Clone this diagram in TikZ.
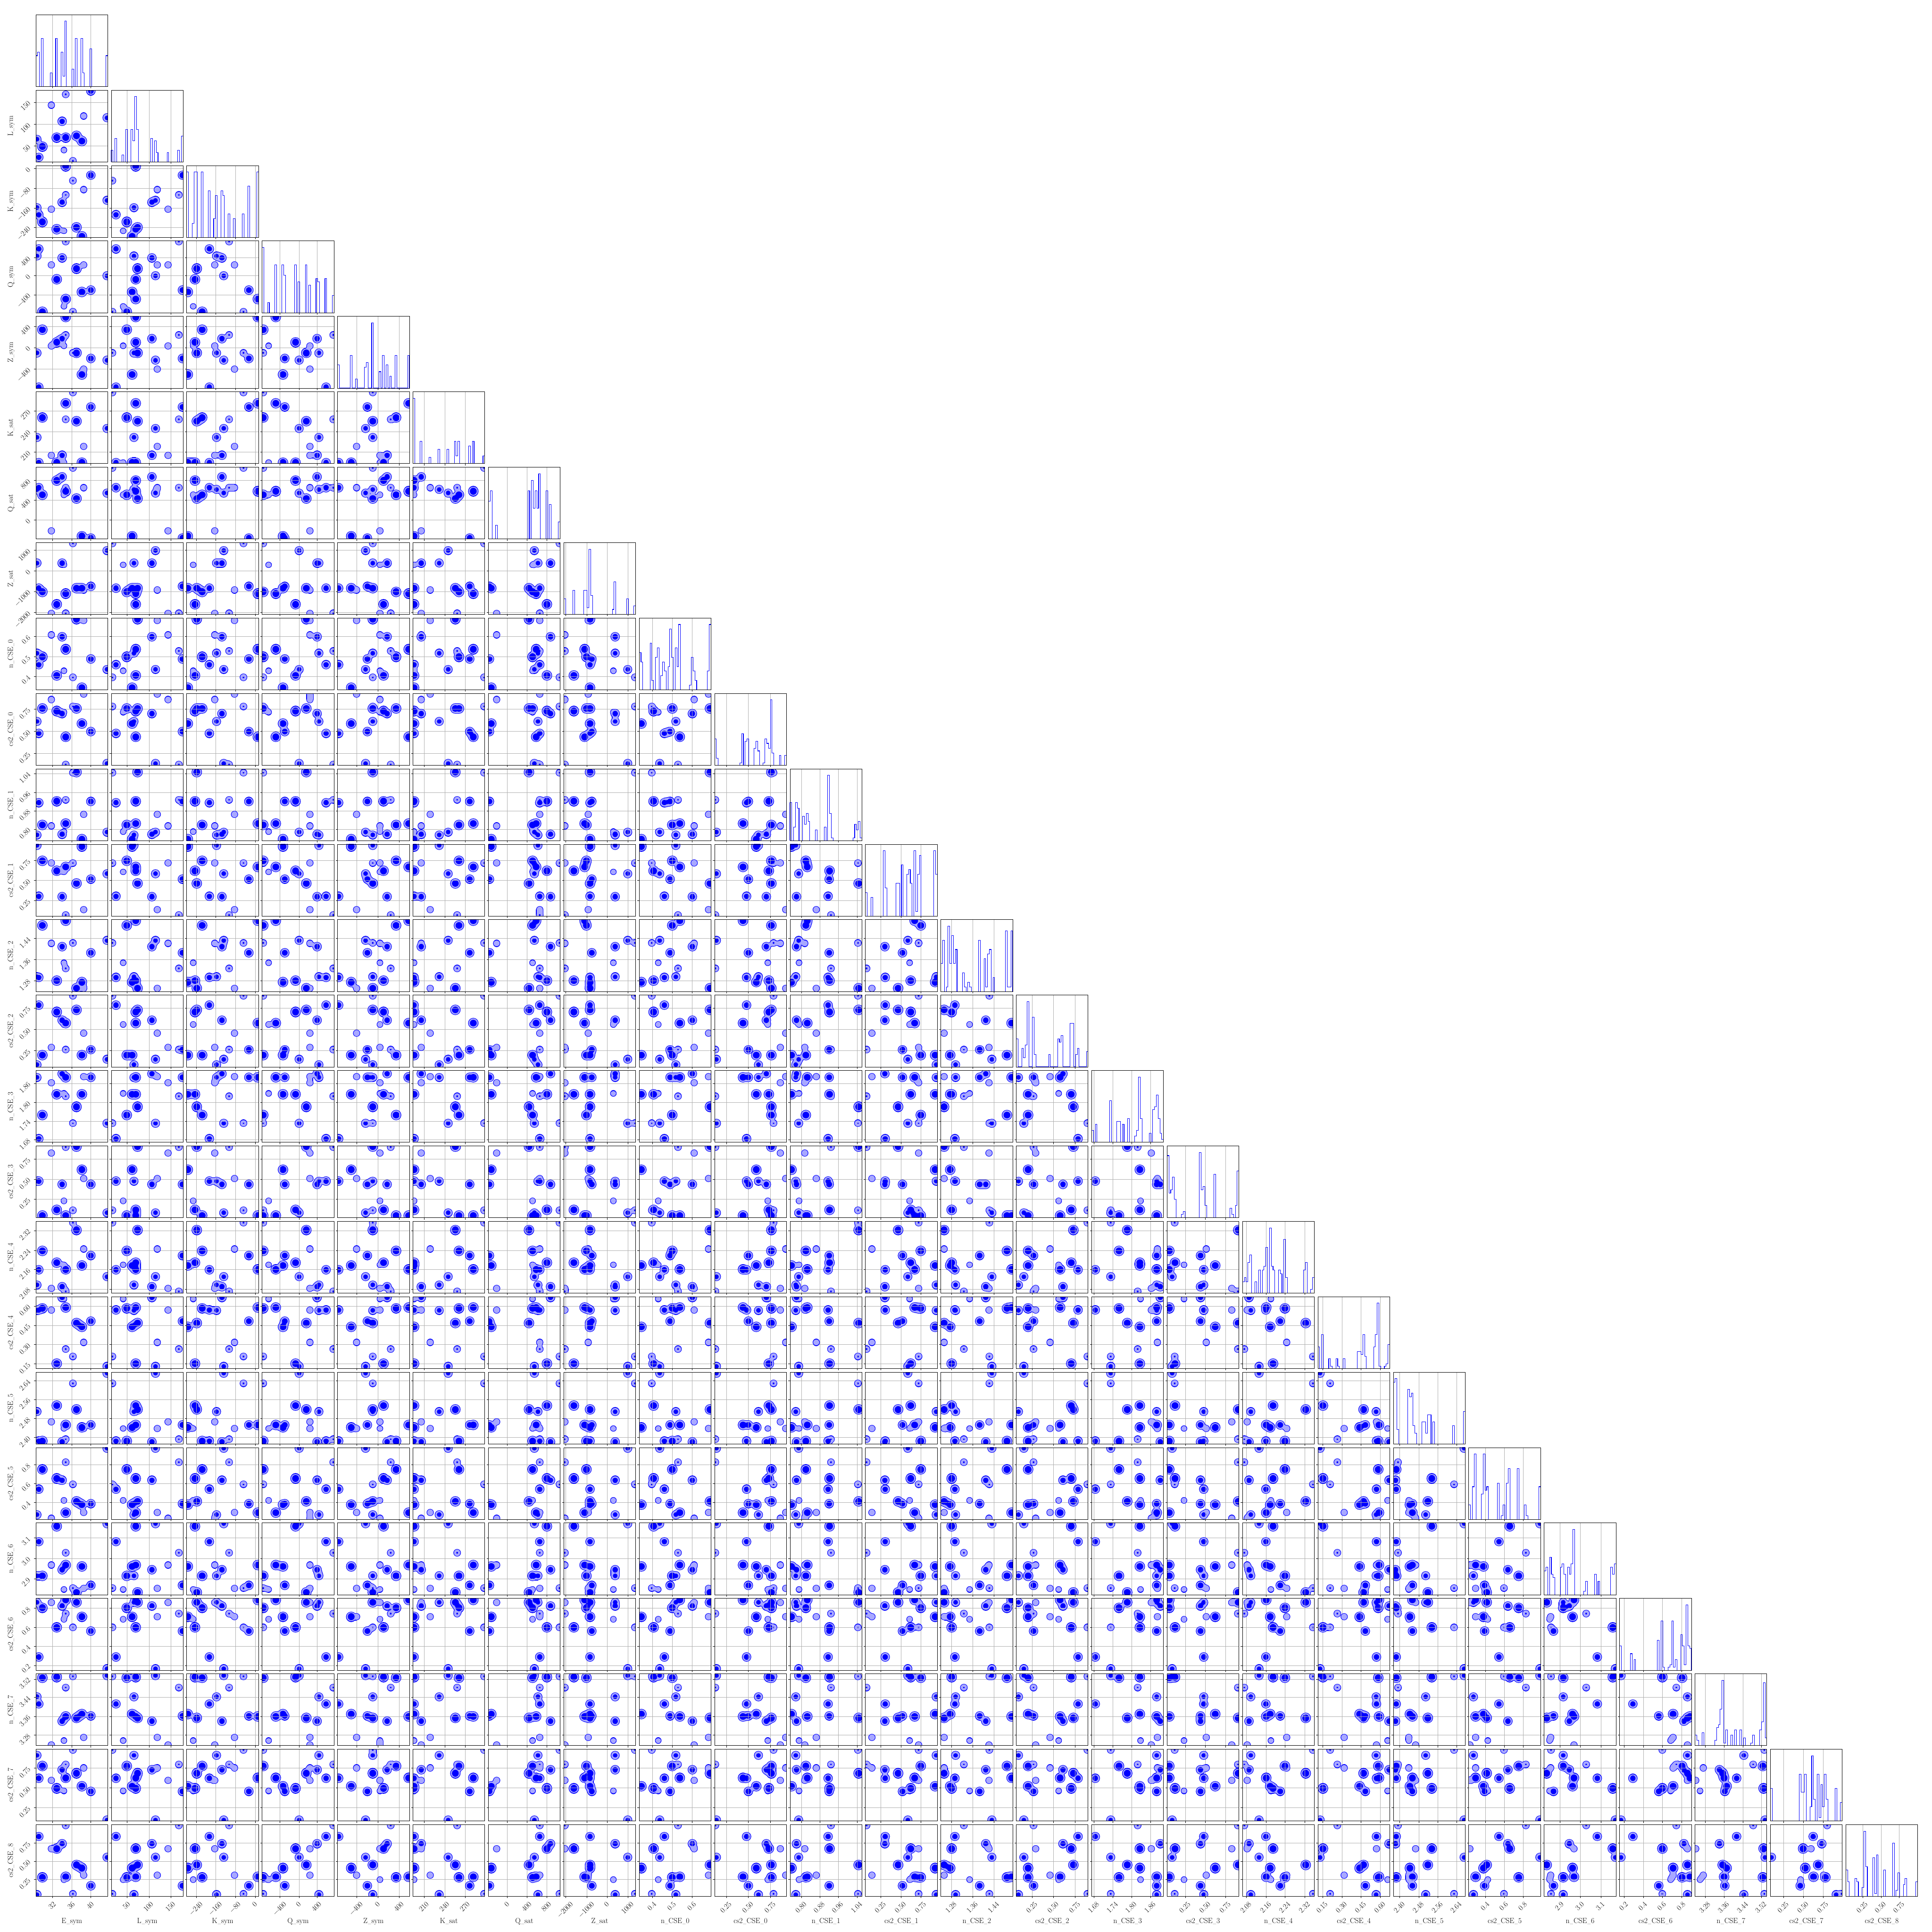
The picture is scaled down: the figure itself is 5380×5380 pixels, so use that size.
\documentclass[tikz,border=0pt]{standalone}
\newcount\myca \newcount\mycb \newcount\mydx \newcount\mydy \newcount\mydd \newcount\mylim
\definecolor{palefill}{HTML}{A8A8FF}
\definecolor{gridgray}{HTML}{B0B0B0}
\newcommand\usc{\kern.05em\scalebox{.62}[1]{\_}\kern.05em}
\tikzset{
  gridline/.style={line width=0.8pt,draw=gridgray},
  framebox/.style={line width=0.8pt,draw=black},
  tickmark/.style={line width=0.8pt,draw=black},
  histline/.style={line width=1pt,draw=blue,line join=miter},
  ticklab/.style={inner sep=0pt,font=\fontsize{15}{17}\selectfont},
  axislab/.style={inner sep=0pt,font=\fontsize{15}{17}\selectfont},
  blobdot/.style={line cap=round,draw=#1},
  rimA1/.style={blobdot=blue,line width=.25in},rimA2/.style={blobdot=blue,line width=.26in},
  rimA3/.style={blobdot=blue,line width=.29in},rimA4/.style={blobdot=blue,line width=.20in},
  rimA5/.style={blobdot=blue,line width=.18in},rimA6/.style={blobdot=blue,line width=.21in},
  rimA7/.style={blobdot=blue,line width=.26in},
  paleA1/.style={blobdot=palefill,line width=.218in},paleA2/.style={blobdot=palefill,line width=.228in},
  paleA3/.style={blobdot=palefill,line width=.258in},paleA4/.style={blobdot=palefill,line width=.168in},
  paleA5/.style={blobdot=palefill,line width=.148in},paleA6/.style={blobdot=palefill,line width=.178in},
  paleA7/.style={blobdot=palefill,line width=.228in},
  coreA1/.style={blobdot=blue,line width=.13in},coreA2/.style={blobdot=blue,line width=.15in},
  coreA3/.style={blobdot=blue,line width=.19in},coreA6/.style={blobdot=blue,line width=.05in},
  coreA7/.style={blobdot=blue,line width=.16in},
}
% sample classes and half-pixel radii
\newcommand\defsamp[2]{\foreach \vv [count=\kk] in {#2}{\expandafter\xdef\csname #1\kk\endcsname{\vv}}}
\defsamp{kl}{1,2,3,4,3,2,5,3,6,6,3,3,4,7,1}
\defsamp{ro}{25,26,29,20,29,26,18,29,21,21,29,29,20,26,25}
\defsamp{ri}{13,15,19,0,19,15,0,19,5,5,19,19,0,16,13}
% positions of the 15 samples along each parameter (px from low end of axis)
\newcommand\defu[2]{\foreach \vv [count=\kk] in {#2}{\expandafter\xdef\csname u#1x\kk\endcsname{\vv}}}
\defu{0}{3,8,18,43,58,73,78,83,83,103,113,128,133,153,198}
\defu{1}{63,13,43,158,68,113,33,68,188,3,73,58,128,198,123}
\defu{2}{83,63,43,78,23,98,18,198,118,158,28,3,133,173,103}
\defu{3}{158,178,3,133,93,153,18,38,198,3,123,58,133,63,103}
\defu{4}{98,3,163,118,128,138,118,198,148,98,98,38,53,83,78}
\defu{5}{73,3,128,23,3,23,3,168,123,198,118,3,48,158,98}
\defu{6}{138,143,123,23,163,173,123,133,143,198,113,8,143,3,128}
\defu{7}{143,73,63,3,28,143,138,58,3,198,73,73,68,78,178}
\defu{8}{102,70,92,153,40,148,53,113,108,35,197,6,193,86,57}
\defu{9}{122,89,158,183,151,144,148,79,2,164,158,116,198,94,5}
\defu{10}{16,106,44,41,110,18,25,48,114,189,191,4,73,109,24}
\defu{11}{197,55,154,148,126,54,123,137,3,148,91,194,18,103,118}
\defu{12}{41,39,184,134,30,125,80,197,64,135,9,26,9,108,142}
\defu{13}{6,172,33,54,153,130,118,122,48,198,159,33,94,48,21}
\defu{14}{181,10,76,166,134,191,136,181,128,53,99,134,183,181,53}
\defu{15}{102,102,6,180,22,93,47,6,197,21,198,134,109,93,14}
\defu{16}{23,65,118,13,85,18,79,66,5,196,176,77,123,105,46}
\defu{17}{162,163,168,163,14,198,194,170,54,34,127,116,73,132,6}
\defu{18}{90,8,8,62,107,6,43,53,13,169,96,46,43,53,197}
\defu{19}{13,84,139,3,114,109,53,19,159,98,50,41,19,44,198}
\defu{20}{53,148,53,83,191,70,15,83,117,19,7,79,18,26,198}
\defu{21}{189,37,174,189,119,179,142,196,158,119,189,149,149,109,4}
\defu{22}{136,116,189,2,191,68,14,81,162,193,77,88,23,83,195}
\defu{23}{183,119,153,113,91,143,84,120,158,198,133,97,148,83,3}
\defu{24}{5,167,53,133,133,147,47,55,198,7,88,79,59,30,109}
% ticks: position/label
\newcommand\deftk[2]{\expandafter\gdef\csname tk#1\endcsname{#2}}
\deftk{0}{47/32,100/36,153/40}
\deftk{1}{44/50,105/100,166/150}
\deftk{2}{27/−240,81/−160,136/−80,191/0}
\deftk{3}{50/−400,103/0,153/400}
\deftk{4}{53/−400,113/0,172/400}
\deftk{5}{32/210,89/240,146/270}
\deftk{6}{53/0,108/400,163/800}
\deftk{7}{5/−2000,64/−1000,121/0,179/1000}
\deftk{8}{37/0.4,92/0.5,148/0.6}
\deftk{9}{33/0.25,94/0.50,156/0.75}
\deftk{10}{32/0.80,83/0.88,134/0.96,187/1.04}
\deftk{11}{43/0.25,99/0.50,155/0.75}
\deftk{12}{30/1.28,89/1.36,148/1.44}
\deftk{13}{45/0.25,104/0.50,164/0.75}
\deftk{14}{7/1.68,59/1.74,111/1.80,164/1.86}
\deftk{15}{51/0.25,107/0.50,163/0.75}
\deftk{16}{11/2.08,66/2.16,119/2.24,174/2.32}
\deftk{17}{13/0.15,67/0.30,120/0.45,174/0.60}
\deftk{18}{18/2.40,71/2.48,124/2.56,176/2.64}
\deftk{19}{47/0.4,99/0.6,152/0.8}
\deftk{20}{44/2.9,101/3.0,158/3.1}
\deftk{21}{13/0.2,66/0.4,119/0.6,173/0.8}
\deftk{22}{29/3.28,81/3.36,134/3.44,185/3.52}
\deftk{23}{37/0.25,92/0.50,147/0.75}
\deftk{24}{47/0.25,98/0.50,149/0.75}
% histograms: parameter, tallest count, bin/count
\newcommand\defhist[3]{\expandafter\xdef\csname hm#1\endcsname{#2}\foreach \hb/\hc in {#3}{\expandafter\xdef\csname hc#1x\hb\endcsname{\hc}}}
\defhist{0}{19}{0/9,1/10,3/14,8/4,11/14,14/10,15/3,16/19,20/5,22/14,25/14,26/4,30/11,39/9}
\defhist{1}{28}{0/5,2/10,6/3,8/14,11/14,12/9,13/28,14/14,22/10,24/9,25/4,31/4,37/5,39/11}
\defhist{2}{14}{0/14,3/3,4/14,5/14,8/14,12/10,15/4,16/9,19/10,20/9,23/5,26/4,31/5,34/11,39/14}
\defhist{3}{19}{0/19,3/3,7/14,11/14,12/11,18/14,20/9,24/14,26/8,30/10,31/9,35/10,39/5}
\defhist{4}{28}{0/10,7/14,10/4,15/9,16/11,19/28,23/7,25/14,27/10,29/5,32/14,39/14}
\defhist{5}{41}{0/41,4/14,9/4,14/9,19/9,23/14,24/5,25/14,31/11,33/14,39/5}
\defhist{6}{19}{0/11,1/14,4/4,22/14,24/17,25/9,26/14,27/9,28/19,32/14,34/10,39/5}
\defhist{7}{38}{0/9,5/14,11/14,12/14,13/4,14/38,15/11,27/3,28/19,35/9,39/5}
\defhist{8}{14}{0/8,1/6,6/10,7/2,9/7,10/9,12/3,13/6,14/4,16/5,17/13,18/7,20/9,21/5,22/14,28/1,29/7,30/4,31/2,38/4,39/14}
\defhist{9}{27}{0/11,1/3,14/1,15/13,17/10,18/11,22/7,23/10,24/6,27/1,28/11,29/9,30/7,31/27,32/5,36/4,39/4}
\defhist{10}{24}{0/14,2/5,3/14,4/12,7/9,8/6,9/10,10/7,14/4,19/5,21/24,22/10,23/1,35/1,36/6,37/4,38/7,39/1}
\defhist{11}{14}{0/5,3/4,10/14,11/6,17/7,18/7,20/11,23/9,24/10,25/7,27/14,28/1,29/9,30/13,38/14,39/9}
\defhist{12}{14}{0/6,1/11,3/1,4/14,5/6,6/12,7/6,8/9,12/4,13/1,15/2,16/1,21/11,24/7,25/1,26/8,27/9,29/3,36/13,37/1,38/1,39/13}
\defhist{13}{21}{0/9,3/6,4/3,5/7,6/21,9/16,10/4,18/4,23/9,24/8,25/10,30/14,31/14,33/4,34/6,39/5}
\defhist{14}{22}{0/4,2/6,10/14,14/7,15/7,17/6,20/8,24/2,25/4,26/22,27/8,32/3,34/11,35/12,36/16,37/8,38/3,39/1}
\defhist{15}{21}{0/20,1/8,2/9,3/13,4/6,8/1,9/2,18/21,19/9,20/10,21/4,26/14,35/3,36/1,38/4,39/15}
\defhist{16}{17}{0/3,1/4,2/3,3/8,4/10,7/3,9/6,11/6,12/7,13/12,15/17,16/7,17/6,20/6,21/5,23/14,24/4,34/6,35/8,38/1,39/4}
\defhist{17}{27}{0/9,2/14,6/4,7/1,10/4,11/1,14/4,22/7,23/7,24/6,25/14,26/5,31/9,32/14,33/27,34/1,37/1,38/2,39/10}
\defhist{18}{18}{0/17,1/18,2/4,8/15,9/13,10/14,11/5,12/3,16/6,17/6,18/3,19/8,20/8,22/6,33/5,39/9}
\defhist{19}{18}{0/4,2/9,3/18,7/7,8/18,9/8,10/9,16/10,18/1,19/4,21/10,22/14,27/14,31/4,32/1,39/9}
\defhist{20}{19}{0/7,1/8,3/11,4/6,5/5,9/8,10/9,11/6,13/8,14/6,15/9,16/19,22/1,23/4,28/6,30/4,37/8,38/6,39/9}
\defhist{21}{24}{0/9,6/6,8/4,21/11,23/18,24/1,27/1,28/2,29/18,30/1,31/4,34/13,35/9,36/2,37/24,38/9,39/8}
\defhist{22}{25}{0/4,1/2,4/5,11/2,12/7,13/8,14/14,15/25,16/1,17/6,20/4,22/6,25/6,27/3,31/1,32/4,36/6,37/9,38/24,39/3}
\defhist{23}{18}{0/9,16/13,17/8,18/8,19/13,22/4,23/18,24/6,26/13,27/1,28/10,29/4,30/13,31/6,36/9,39/5}
\defhist{24}{22}{0/9,1/5,5/6,6/5,9/3,10/22,11/10,15/13,16/1,17/14,21/9,26/18,28/2,29/8,32/4,33/6,39/5}
% blob centres, gathered by class
\def\buildS{\advance\myca 1
  \edef\xx{\the\numexpr\Lf+\csname u\PI x\the\myca\endcsname\relax}%
  \edef\yy{\the\numexpr\Bt-\csname u\PJ x\the\myca\endcsname\relax}%
  \expandafter\let\csname cx\the\myca\endcsname\xx
  \expandafter\let\csname cy\the\myca\endcsname\yy
  \edef\clname{PT\csname kl\the\myca\endcsname}%
  \expandafter\edef\csname\clname\endcsname{\csname\clname\endcsname (\xx,\yy)--(\xx.01,\yy)}%
  \ifnum\myca<15 \expandafter\buildS\fi}
% pairs
\def\addneck{%
  \edef\raa{\csname ro\the\myca\endcsname}\edef\rbb{\csname ro\the\mycb\endcsname}%
  \pgfmathsetmacro\nd{sqrt(\the\mydd)}%
  \pgfmathsetmacro\rmin{min(\raa,\rbb)/2}%
  \pgfmathsetmacro\nn{max(0,min(.9*\rmin,4.5+1.6*\rmin*(1-2*\nd/(\raa+\rbb))))}%
  \ifdim\nn pt>0.5pt
    \pgfmathsetmacro\wbb{(2*\nn+3.2)*0.7227}\pgfmathsetmacro\wpp{2*\nn*0.7227}%
    \edef\NB{\unexpanded\expandafter{\NB}\noexpand\draw[draw=blue,line width=\wbb pt] (\csname cx\the\myca\endcsname,\csname cy\the\myca\endcsname)--(\csname cx\the\mycb\endcsname,\csname cy\the\mycb\endcsname);}%
    \edef\NP{\unexpanded\expandafter{\NP}\noexpand\draw[draw=palefill,line width=\wpp pt] (\csname cx\the\myca\endcsname,\csname cy\the\myca\endcsname)--(\csname cx\the\mycb\endcsname,\csname cy\the\mycb\endcsname);}%
  \fi}
\def\addcoreneck{%
  \edef\raa{\csname ri\the\myca\endcsname}\edef\rbb{\csname ri\the\mycb\endcsname}%
  \ifnum\raa>0 \ifnum\rbb>0
    \pgfmathsetmacro\wcc{.75*min(\raa,\rbb)*0.7227}%
    \edef\NC{\unexpanded\expandafter{\NC}\noexpand\draw[draw=blue,line width=\wcc pt] (\csname cx\the\myca\endcsname,\csname cy\the\myca\endcsname)--(\csname cx\the\mycb\endcsname,\csname cy\the\mycb\endcsname);}%
  \fi\fi}
\def\checkpair{%
  \mydx=\numexpr\csname cx\the\myca\endcsname-\csname cx\the\mycb\endcsname\relax
  \mydy=\numexpr\csname cy\the\myca\endcsname-\csname cy\the\mycb\endcsname\relax
  \mydd=\numexpr\mydx*\mydx+\mydy*\mydy\relax
  \mylim=\numexpr\csname ro\the\myca\endcsname+\csname ro\the\mycb\endcsname-2\relax
  \ifnum\numexpr4*\mydd\relax<\numexpr\mylim*\mylim\relax \addneck\fi
  \mylim=\numexpr\csname ri\the\myca\endcsname+\csname ri\the\mycb\endcsname+2\relax
  \ifnum\numexpr4*\mydd\relax<\numexpr\mylim*\mylim\relax \addcoreneck\fi}
\def\innerloop{\advance\mycb 1 \checkpair \ifnum\mycb<15 \expandafter\innerloop\fi}
\def\outerloop{\mycb=\myca \innerloop \advance\myca 1 \ifnum\myca<15 \expandafter\outerloop\fi}
% grid chords inside cores
\def\addchordV{%
  \edef\rii{\csname ri\the\myca\endcsname}%
  \pgfmathsetmacro\hlf{sqrt(\rii*\rii-\the\mydx*\the\mydx)/2}%
  \pgfmathsetmacro\ya{\csname cy\the\myca\endcsname-\hlf}\pgfmathsetmacro\yb{\csname cy\the\myca\endcsname+\hlf}%
  \xdef\CH{\CH(\curP,\ya)--(\curP,\yb)}}
\def\addchordH{%
  \edef\rii{\csname ri\the\myca\endcsname}%
  \pgfmathsetmacro\hlf{sqrt(\rii*\rii-\the\mydx*\the\mydx)/2}%
  \pgfmathsetmacro\ya{\csname cx\the\myca\endcsname-\hlf}\pgfmathsetmacro\yb{\csname cx\the\myca\endcsname+\hlf}%
  \xdef\CH{\CH(\ya,\curP)--(\yb,\curP)}}
\def\chordloopV{\advance\myca 1
  \mydx=\numexpr2*(\csname cx\the\myca\endcsname-\curP)\relax
  \ifnum\mydx<0 \mydx=-\mydx\fi
  \ifnum\mydx<\csname ri\the\myca\endcsname\relax \addchordV\fi
  \ifnum\myca<15 \expandafter\chordloopV\fi}
\def\chordloopH{\advance\myca 1
  \mydx=\numexpr2*(\csname cy\the\myca\endcsname-\curP)\relax
  \ifnum\mydx<0 \mydx=-\mydx\fi
  \ifnum\mydx<\csname ri\the\myca\endcsname\relax \addchordH\fi
  \ifnum\myca<15 \expandafter\chordloopH\fi}
% off-diagonal panel
\newcommand\panel[2]{%
 \begin{scope}
  \edef\PI{#1}\edef\PJ{#2}%
  \edef\Lf{\the\numexpr100+210*#1\relax}\edef\Rt{\the\numexpr\Lf+200\relax}%
  \edef\Tp{\the\numexpr41+210*#2\relax}\edef\Bt{\the\numexpr\Tp+200\relax}%
  \gdef\GS{}\gdef\TS{}\gdef\CH{}%
  \expandafter\def\csname PT1\endcsname{}\expandafter\def\csname PT2\endcsname{}%
  \expandafter\def\csname PT3\endcsname{}\expandafter\def\csname PT4\endcsname{}%
  \expandafter\def\csname PT5\endcsname{}\expandafter\def\csname PT6\endcsname{}%
  \expandafter\def\csname PT7\endcsname{}%
  \def\NB{}\def\NP{}\def\NC{}%
  \myca=0 \buildS
  \myca=1 \outerloop
  \edef\tmplist{\csname tk#1\endcsname}%
  \foreach \tku/\tkl in \tmplist {%
    \edef\curP{\the\numexpr\Lf+\tku\relax}%
    \xdef\GS{\GS(\curP,\Tp)--(\curP,\Bt)}%
    \xdef\TS{\TS(\curP,\Bt)--(\curP,\the\numexpr\Bt+5\relax)}%
    \myca=0 \chordloopV}%
  \edef\tmplist{\csname tk#2\endcsname}%
  \foreach \tku/\tkl in \tmplist {%
    \edef\curP{\the\numexpr\Bt-\tku\relax}%
    \xdef\GS{\GS(\Lf,\curP)--(\Rt,\curP)}%
    \xdef\TS{\TS(\Lf,\curP)--(\the\numexpr\Lf-5\relax,\curP)}%
    \myca=0 \chordloopH}%
  \begin{scope}
   \clip (\Lf,\Tp) rectangle (\Rt,\Bt);
   \edef\cmd{\noexpand\draw[gridline] \GS;}\cmd
   \foreach \cl in {1,...,7}{\edef\cmd{\noexpand\draw[rimA\cl] \csname PT\cl\endcsname;}\cmd}
   \NB
   \foreach \cl in {1,...,7}{\edef\cmd{\noexpand\draw[paleA\cl] \csname PT\cl\endcsname;}\cmd}
   \NP
   \foreach \cl in {1,2,3,6,7}{\edef\cmd{\noexpand\draw[coreA\cl] \csname PT\cl\endcsname;}\cmd}
   \NC
   \ifx\CH\empty\else\edef\cmd{\noexpand\draw[gridline] \CH;}\cmd\fi
  \end{scope}
  \draw[framebox] (\Lf,\Tp) rectangle (\Rt,\Bt);
  \edef\cmd{\noexpand\draw[tickmark] \TS;}\cmd
 \end{scope}}
% diagonal panel
\newcommand\diagpanel[1]{%
 \begin{scope}
  \edef\Lf{\the\numexpr100+210*#1\relax}\edef\Rt{\the\numexpr\Lf+200\relax}%
  \edef\Tp{\the\numexpr41+210*#1\relax}\edef\Bt{\the\numexpr\Tp+200\relax}%
  \gdef\GS{}\gdef\TS{}\gdef\HS{}%
  \edef\tmplist{\csname tk#1\endcsname}%
  \foreach \tku/\tkl in \tmplist {%
    \xdef\GS{\GS(\the\numexpr\Lf+\tku\relax,\Tp)--(\the\numexpr\Lf+\tku\relax,\Bt)}%
    \xdef\TS{\TS(\the\numexpr\Lf+\tku\relax,\Bt)--(\the\numexpr\Lf+\tku\relax,\the\numexpr\Bt+5\relax)}}%
  \foreach \hb in {0,...,39}{%
    \edef\hh{\ifcsname hc#1x\hb\endcsname\the\numexpr182*\csname hc#1x\hb\endcsname/\csname hm#1\endcsname\relax\else 0\fi}%
    \xdef\HS{\HS--(\the\numexpr\Lf+5*\hb\relax,\the\numexpr\Bt-\hh\relax)--(\the\numexpr\Lf+5*\hb+5\relax,\the\numexpr\Bt-\hh\relax)}}%
  \edef\cmd{\noexpand\draw[gridline] \GS;}\cmd
  \edef\cmd{\noexpand\draw[histline] (\Lf,\Bt) \HS -- (\Rt,\Bt);}\cmd
  \draw[framebox] (\Lf,\Tp) rectangle (\Rt,\Bt);
  \edef\cmd{\noexpand\draw[tickmark] \TS;}\cmd
 \end{scope}}
% labels: half the side of the rotated text's bounding square, in px
\newcommand\measurelab{%
  \setbox0=\hbox{\pgfinterruptpicture\fontsize{15}{17}\selectfont\tkl\endpgfinterruptpicture}%
  \dimen0=\wd0 \advance\dimen0 by\ht0 \advance\dimen0 by\dp0
  \edef\wv{\the\dimen0}%
  \pgfmathsetmacro\mysz{\wv/2.828/0.7227}}
\newcommand\bottomlabels[1]{%
  \edef\tmplist{\csname tk#1\endcsname}%
  \foreach \tku/\tkl [count=\tkn] in \tmplist {%
    \measurelab
    \pgfmathsetmacro\xpos{100+210*#1+\tku-2}%
    \pgfmathsetmacro\ypos{5281+13+\mysz}%
    \node[ticklab,rotate=45] (xt#1n\tkn) at (\xpos,\ypos) {\tkl};}}
\newcommand\leftlabels[1]{%
  \edef\tmplist{\csname tk#1\endcsname}%
  \foreach \tku/\tkl [count=\tkn] in \tmplist {%
    \measurelab
    \pgfmathsetmacro\xpos{100-14-\mysz}%
    \pgfmathsetmacro\ypos{241+210*#1-\tku-5+\mysz}%
    \node[ticklab,rotate=45] (yt#1n\tkn) at (\xpos,\ypos) {\tkl};}}
\begin{document}
\begin{tikzpicture}[x=0.01in,y=-0.01in]
\useasboundingbox (0,0) rectangle (5380,5380);
\fill[white] (0,0) rectangle (5380,5380);
\foreach \jj in {1,...,24}{%
  \pgfmathtruncatemacro\jm{\jj-1}%
  \foreach \ii in {0,...,\jm}{\panel{\ii}{\jj}}}
\foreach \ii in {0,...,24}{\diagpanel{\ii}}
\foreach \ii in {0,...,24}{\bottomlabels{\ii}}
\foreach \ii in {1,...,24}{\leftlabels{\ii}}
\foreach \nm [count=\kk from 0] in {E\usc sym,L\usc sym,K\usc sym,Q\usc sym,Z\usc sym,K\usc sat,Q\usc sat,Z\usc sat,n\usc CSE\usc 0,cs2\usc CSE\usc 0,n\usc CSE\usc 1,cs2\usc CSE\usc 1,n\usc CSE\usc 2,cs2\usc CSE\usc 2,n\usc CSE\usc 3,cs2\usc CSE\usc 3,n\usc CSE\usc 4,cs2\usc CSE\usc 4,n\usc CSE\usc 5,cs2\usc CSE\usc 5,n\usc CSE\usc 6,cs2\usc CSE\usc 6,n\usc CSE\usc 7,cs2\usc CSE\usc 7,cs2\usc CSE\usc 8}{%
  \pgfmathsetmacro\xpos{200+210*\kk}%
  \node[axislab,anchor=base] (xl\kk) at (\xpos,5355) {\nm};
  \ifnum\kk>0
    \pgfmathsetmacro\ypos{141+210*\kk}%
    \node[axislab,anchor=base,rotate=90] (yl\kk) at (36,\ypos) {\nm};
  \fi}
\end{tikzpicture}
\end{document}
